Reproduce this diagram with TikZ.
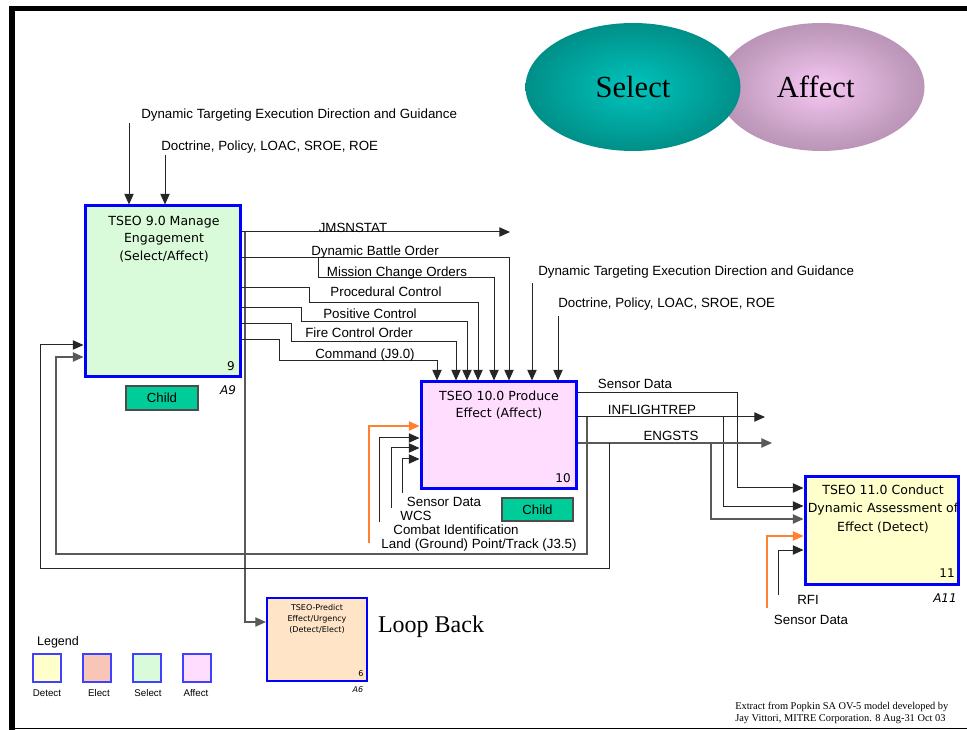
\documentclass[tikz,border=0pt]{standalone}
\usepackage{fontspec}
\setmainfont{Liberation Sans}
\newfontfamily\serif{Liberation Serif}
\newfontfamily\comic{DejaVu Sans}
\usetikzlibrary{shapes.geometric,arrows.meta}
\definecolor{selectfill}{HTML}{D9FBD9}
\definecolor{affectfill}{HTML}{FFDDFF}
\definecolor{detectfill}{HTML}{FFFFCC}
\definecolor{electfill}{HTML}{F8C6B6}
\definecolor{predictfill}{HTML}{FFE4C8}
\definecolor{childfill}{HTML}{00CC99}
\definecolor{boxblue}{HTML}{0000FF}
\definecolor{inorange}{HTML}{FF8030}
\definecolor{selin}{HTML}{00C4BC}
\definecolor{selmid}{HTML}{009A93}
\definecolor{selout}{HTML}{005853}
\definecolor{affin}{HTML}{F7C8F4}
\definecolor{affmid}{HTML}{C49EC1}
\definecolor{affout}{HTML}{876787}
\pgfdeclareradialshading{selshade}{\pgfpoint{0bp}{0bp}}{color(0bp)=(selin); color(20bp)=(selmid); color(50bp)=(selout)}
\pgfdeclareradialshading{affshade}{\pgfpoint{0bp}{0bp}}{color(0bp)=(affin); color(20bp)=(affmid); color(50bp)=(affout)}
\begin{document}
\begin{tikzpicture}[x=0.75pt,y=-0.75pt,
  ln/.style={draw=black!85, line width=0.75pt},
  gln/.style={draw=black!65, line width=0.9pt},
  oln/.style={draw=inorange, line width=0.9pt},
  arr/.style={-{Triangle[length=8pt,width=7pt]}},
  abox/.style={draw=boxblue, line width=2.25pt, inner sep=0pt},
  ttl/.style={font=\comic\fontsize{9.4}{13.1}\selectfont, align=center, inner sep=0pt},
  lbl/.style={font=\fontsize{10}{12}\selectfont, inner sep=0pt},
  num/.style={font=\comic\fontsize{9}{10}\selectfont, inner sep=0pt},
  anum/.style={font=\comic\itshape\fontsize{9}{10}\selectfont, inner sep=0pt},
  childbox/.style={draw=black!70, line width=1.2pt, fill=childfill, inner sep=0pt, font=\fontsize{9.9}{11}\selectfont},
  legsq/.style={draw=boxblue!75, line width=0.8pt, minimum width=28*0.75pt, minimum height=28*0.75pt, inner sep=0pt},
  leglbl/.style={font=\fontsize{7.3}{9}\selectfont, inner sep=0pt},
]
\useasboundingbox (0,0) rectangle (967,730);
% frame
\fill[black] (9,6) rectangle (967,11);
\fill[black] (9,6) rectangle (15,730);
\draw[line width=1.2pt] (9,728.5) -- (967,728.5);

% ellipses
\node[ellipse, shade, shading=affshade, minimum width=207*0.75pt, minimum height=128*0.75pt, font=\serif\fontsize{23}{26}\selectfont] (affE) at (821,87) {\hspace*{-8pt}Affect};
\node[ellipse, shade, shading=selshade, minimum width=215*0.75pt, minimum height=128*0.75pt, font=\serif\fontsize{23}{26}\selectfont] (selE) at (633,87) {Select};

% boxes
\node[abox, fill=selectfill, minimum width=155*0.75pt, minimum height=171*0.75pt] (b9) at (162.5,291.5) {};
\node[abox, fill=affectfill, minimum width=155*0.75pt, minimum height=107*0.75pt] (b10) at (498.5,435.5) {};
\node[abox, fill=detectfill, minimum width=153*0.75pt, minimum height=107*0.75pt] (b11) at (881.5,530.5) {};
\node[abox, line width=1.6pt, fill=predictfill, minimum width=100*0.75pt, minimum height=83*0.75pt] (b6) at (317,639.5) {};

\node[ttl] (t9) at (164,239) {TSEO 9.0 Manage\\Engagement\\(Select/Affect)};
\node[ttl] (t10) at (499,405) {TSEO 10.0 Produce\\Effect (Affect)};
\node[ttl, font=\comic\fontsize{9.4}{13.9}\selectfont] (t11) at (883,509) {TSEO 11.0 Conduct\\Dynamic Assessment of\\Effect (Detect)};
\node[ttl, font=\comic\fontsize{6}{8.6}\selectfont] (t6) at (317,619) {TSEO-Predict\\Effect/Urgency\\(Detect/Elect)};

\node[num] (n9) at (231,366) {9};
\node[num] (n10) at (563,478) {10};
\node[num] (n11) at (947,573) {11};
\node[num, font=\comic\fontsize{6}{7}\selectfont] (n6) at (361,674) {6};
\node[anum] (a9) at (228,390) {A9};
\node[anum] (a11) at (945,598) {A11};
\node[anum, font=\comic\itshape\fontsize{6}{7}\selectfont] (a6) at (358,690) {A6};

\node[childbox, minimum width=72*0.75pt, minimum height=24*0.75pt] (c9) at (162,398) {Child};
\node[childbox, minimum width=71*0.75pt, minimum height=23*0.75pt] (c10) at (537.5,509.5) {Child};

% top controls of box 9
\node[lbl, anchor=west] (dtg1) at (141,115) {Dynamic Targeting Execution Direction and Guidance};
\node[lbl, anchor=west] (doc1) at (161,147) {Doctrine, Policy, LOAC, SROE, ROE};
\coordinate (d1) at (129,123);
\coordinate (d2) at (165,155);
\draw[ln,arr] (d1) -- (d1 |- b9.north);
\draw[ln,arr] (d2) -- (d2 |- b9.north);

% top controls of box 10
\node[lbl, anchor=west] (dtg2) at (538,272) {Dynamic Targeting Execution Direction and Guidance};
\node[lbl, anchor=west] (doc2) at (558,304) {Doctrine, Policy, LOAC, SROE, ROE};
\coordinate (d3) at (532,283);
\coordinate (d4) at (558,316);
\draw[ln,arr] (d3) -- (d3 |- b10.north);
\draw[ln,arr] (d4) -- (d4 |- b10.north);

% outputs of box 9
\coordinate (jm) at (510,232);
\draw[ln,arr] (b9.east |- jm) -- (jm);
\coordinate (jb) at (245,232);
\coordinate (jc) at (245,622);
\draw[gln,arr] (jb) -- (jc) -- (jc -| b6.west);

\coordinate (dbo) at (509,258);
\draw[ln,arr] (b9.east |- dbo) -- (dbo) -- (dbo |- b10.north);
\coordinate (mco1) at (318,258);
\coordinate (mco2) at (494,278);
\draw[ln,arr] (mco1) |- (mco2) -- (mco2 |- b10.north);
\coordinate (pc1) at (309,288);
\coordinate (pc2) at (478,303);
\draw[ln,arr] (b9.east |- pc1) -- (pc1) |- (pc2) -- (pc2 |- b10.north);
\coordinate (po1) at (301,308);
\coordinate (po2) at (467,322);
\draw[ln,arr] (b9.east |- po1) -- (po1) |- (po2) -- (po2 |- b10.north);
\coordinate (fc1) at (291,324);
\coordinate (fc2) at (456,342);
\draw[ln,arr] (b9.east |- fc1) -- (fc1) |- (fc2) -- (fc2 |- b10.north);
\coordinate (cm1) at (279,340);
\coordinate (cm2) at (437,361);
\draw[ln,arr] (b9.east |- cm1) -- (cm1) |- (cm2) -- (cm2 |- b10.north);

\node[lbl] (lj) at (353,228) {JMSNSTAT};
\node[lbl] (ldbo) at (375,252) {Dynamic Battle Order};
\node[lbl] (lmco) at (397,273) {Mission Change Orders};
\node[lbl] (lpc) at (386,292) {Procedural Control};
\node[lbl] (lpo) at (370,314) {Positive Control};
\node[lbl] (lfc) at (359,333) {Fire Control Order};
\node[lbl] (lcm) at (365,355) {Command (J9.0)};

% inputs of box 10
\coordinate (i1s) at (369,543); \coordinate (i1t) at (369,426);
\draw[oln,arr] (i1s) -- (i1t) -- (i1t -| b10.west);
\coordinate (i2s) at (379,522); \coordinate (i2t) at (379,438);
\draw[ln,arr] (i2s) -- (i2t) -- (i2t -| b10.west);
\coordinate (i3s) at (391,508); \coordinate (i3t) at (391,448);
\draw[ln,arr] (i3s) -- (i3t) -- (i3t -| b10.west);
\coordinate (i4s) at (402,493); \coordinate (i4t) at (402,459);
\draw[ln,arr] (i4s) -- (i4t) -- (i4t -| b10.west);
\node[lbl] (lsd) at (444,502) {Sensor Data};
\node[lbl] (lwcs) at (416,516) {WCS};
\node[lbl] (lci) at (456,530) {Combat Identification};
\node[lbl] (lland) at (479,545) {Land (Ground) Point/Track (J3.5)};

% outputs of box 10
\coordinate (sd1) at (737,393); \coordinate (sd2) at (737,488);
\draw[ln,arr] (b10.east |- sd1) -- (sd1) -- (sd2) -- (sd2 -| b11.west);
\coordinate (inf) at (765,417);
\draw[ln,arr] (b10.east |- inf) -- (inf);
\coordinate (inf2) at (723,417); \coordinate (inf3) at (723,506);
\draw[ln,arr] (inf2) -- (inf3) -- (inf3 -| b11.west);
\coordinate (eng) at (772,443);
\draw[gln,arr] (b10.east |- eng) -- (eng);
\coordinate (eng2) at (711,443); \coordinate (eng3) at (711,519);
\draw[gln,arr] (eng2) -- (eng3) -- (eng3 -| b11.west);
\node[lbl] (lsd2) at (635,384) {Sensor Data};
\node[lbl] (linf) at (652,410) {INFLIGHTREP};
\node[lbl] (leng) at (671,436) {ENGSTS};

% feedback to box 9
\coordinate (fa1) at (587,417); \coordinate (fa2) at (587,554);
\coordinate (fa3) at (56,554); \coordinate (fa4) at (56,357);
\draw[gln,arr] (fa1) -- (fa2) -- (fa3) -- (fa4) -- (fa4 -| b9.west);
\coordinate (fb1) at (609,443); \coordinate (fb2) at (609,568);
\coordinate (fb3) at (40,568); \coordinate (fb4) at (40,345);
\draw[ln,arr] (fb1) -- (fb2) -- (fb3) -- (fb4) -- (fb4 -| b9.west);

% inputs of box 11
\coordinate (k1s) at (767,608); \coordinate (k1t) at (767,536);
\draw[oln,arr] (k1s) -- (k1t) -- (k1t -| b11.west);
\coordinate (k2s) at (778,595); \coordinate (k2t) at (778,550);
\draw[ln,arr] (k2s) -- (k2t) -- (k2t -| b11.west);
\node[lbl] (lrfi) at (808,600) {RFI};
\node[lbl] (lsd3) at (811,620) {Sensor Data};

% loop back
\node[font=\serif\fontsize{18}{20}\selectfont, inner sep=0pt] (lb) at (431,627) {Loop Back};

% legend
\node[font=\fontsize{9.4}{11}\selectfont, inner sep=0pt] (leg) at (58,642) {Legend};
\node[legsq, fill=detectfill] (ld) at (47,668) {};
\node[legsq, fill=electfill] (le) at (97,668) {};
\node[legsq, fill=selectfill] (ls) at (147,668) {};
\node[legsq, fill=affectfill] (la) at (197,668) {};
\node[leglbl] (ldt) at (47,693) {Detect};
\node[leglbl] (let) at (99,693) {Elect};
\node[leglbl] (lst) at (148,693) {Select};
\node[leglbl] (lat) at (196,693) {Affect};

% credit
\node[font=\serif\fontsize{7.8}{9}\selectfont, align=left, anchor=west, inner sep=0pt] (cred) at (735,713) {Extract from Popkin SA OV-5 model developed by\\Jay Vittori, MITRE Corporation. 8 Aug-31 Oct 03};
\end{tikzpicture}
\end{document}
